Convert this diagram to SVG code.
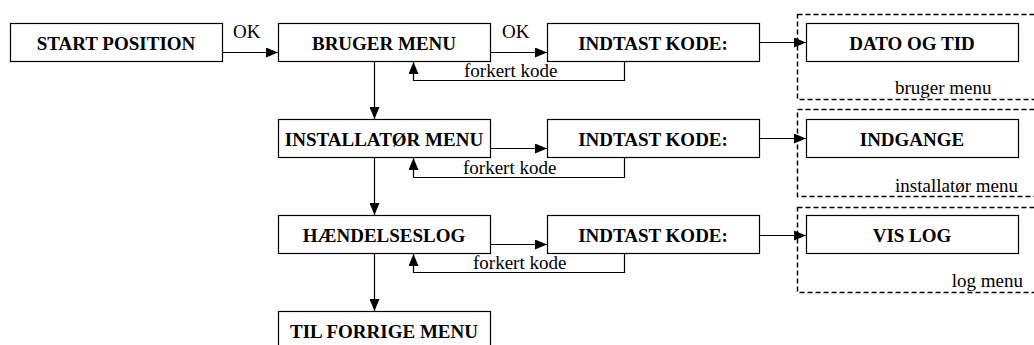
<svg xmlns="http://www.w3.org/2000/svg" width="1034" height="345" viewBox="0 0 1034 345" font-family="Liberation Serif, Times New Roman, serif">
<style>
.box{fill:#fff;stroke:#000;stroke-width:1.2}
.grp{fill:none;stroke:#000;stroke-width:1.5;stroke-dasharray:5 3}
text{font-family:'Liberation Serif','Times New Roman',serif}
.b{font-weight:bold;font-size:19px;text-anchor:middle;fill:#000}
.t{font-size:19px;fill:#000}
.c{fill:none;stroke:#000;stroke-width:1.2}
</style>
<defs>
<marker id="ah" markerWidth="12" markerHeight="10" refX="12" refY="5" orient="auto" markerUnits="userSpaceOnUse">
<path d="M0,0 L12,5 L0,10 Z" fill="#000"/>
</marker>
</defs>
<rect width="1034" height="345" fill="#fff"/>
<g id="groups">
<g id="grp-bruger"><rect class="grp" x="797.5" y="14.5" width="245" height="85"/><text class="t" x="895" y="94">bruger menu</text></g>
<g id="grp-installator"><rect class="grp" x="797.5" y="109.5" width="245" height="87"/><text class="t" x="1018" y="192" text-anchor="end">installatør menu</text></g>
<g id="grp-log"><rect class="grp" x="797.5" y="207.5" width="245" height="85"/><text class="t" x="1023" y="287" text-anchor="end">log menu</text></g>
</g>
<g id="connectors">
<path class="c" d="M222,52.5 H278" marker-end="url(#ah)"/>
<text class="t" x="233" y="38">OK</text>
<path class="c" d="M490,52.5 H547" marker-end="url(#ah)"/>
<text class="t" x="502" y="38">OK</text>
<path class="c" d="M759,42.5 H806" marker-end="url(#ah)"/>
<path class="c" d="M624.5,62 V80.5 H413.5 V62" marker-end="url(#ah)"/>
<text class="t" x="464" y="77">forkert kode</text>
<path class="c" d="M374.5,62 V119" marker-end="url(#ah)"/>
<path class="c" d="M490,148.5 H547" marker-end="url(#ah)"/>
<path class="c" d="M759,138.5 H806" marker-end="url(#ah)"/>
<path class="c" d="M624.5,158 V177.5 H413.5 V158" marker-end="url(#ah)"/>
<text class="t" x="463" y="174">forkert kode</text>
<path class="c" d="M374.5,158 V215" marker-end="url(#ah)"/>
<path class="c" d="M490,244.5 H547" marker-end="url(#ah)"/>
<path class="c" d="M759,235.5 H806" marker-end="url(#ah)"/>
<path class="c" d="M624.5,254 V272.5 H413.5 V254" marker-end="url(#ah)"/>
<text class="t" x="473" y="269">forkert kode</text>
<path class="c" d="M374.5,254 V311" marker-end="url(#ah)"/>
</g>
<g id="start"><rect class="box" x="10.5" y="23.5" width="212" height="38"/><text class="b" x="116" y="50">START POSITION</text></g>
<g id="bruger"><rect class="box" x="278.5" y="23.5" width="212" height="38"/><text class="b" x="384" y="50">BRUGER MENU</text></g>
<g id="kode1"><rect class="box" x="547.5" y="23.5" width="212" height="38"/><text class="b" x="653" y="50">INDTAST KODE:</text></g>
<g id="dato"><rect class="box" x="806.5" y="23.5" width="212" height="38"/><text class="b" x="912" y="50">DATO OG TID</text></g>
<g id="installator"><rect class="box" x="278.5" y="119.5" width="212" height="38"/><text class="b" x="384" y="146">INSTALLATØR MENU</text></g>
<g id="kode2"><rect class="box" x="547.5" y="119.5" width="212" height="38"/><text class="b" x="653" y="146">INDTAST KODE:</text></g>
<g id="indgange"><rect class="box" x="806.5" y="119.5" width="212" height="38"/><text class="b" x="912" y="146">INDGANGE</text></g>
<g id="haendelseslog"><rect class="box" x="278.5" y="215.5" width="212" height="38"/><text class="b" x="384" y="242">HÆNDELSESLOG</text></g>
<g id="kode3"><rect class="box" x="547.5" y="215.5" width="212" height="38"/><text class="b" x="653" y="242">INDTAST KODE:</text></g>
<g id="vislog"><rect class="box" x="806.5" y="215.5" width="212" height="38"/><text class="b" x="912" y="242">VIS LOG</text></g>
<g id="tilforrige"><rect class="box" x="278.5" y="311.5" width="212" height="38"/><text class="b" x="384" y="338">TIL FORRIGE MENU</text></g>
</svg>
